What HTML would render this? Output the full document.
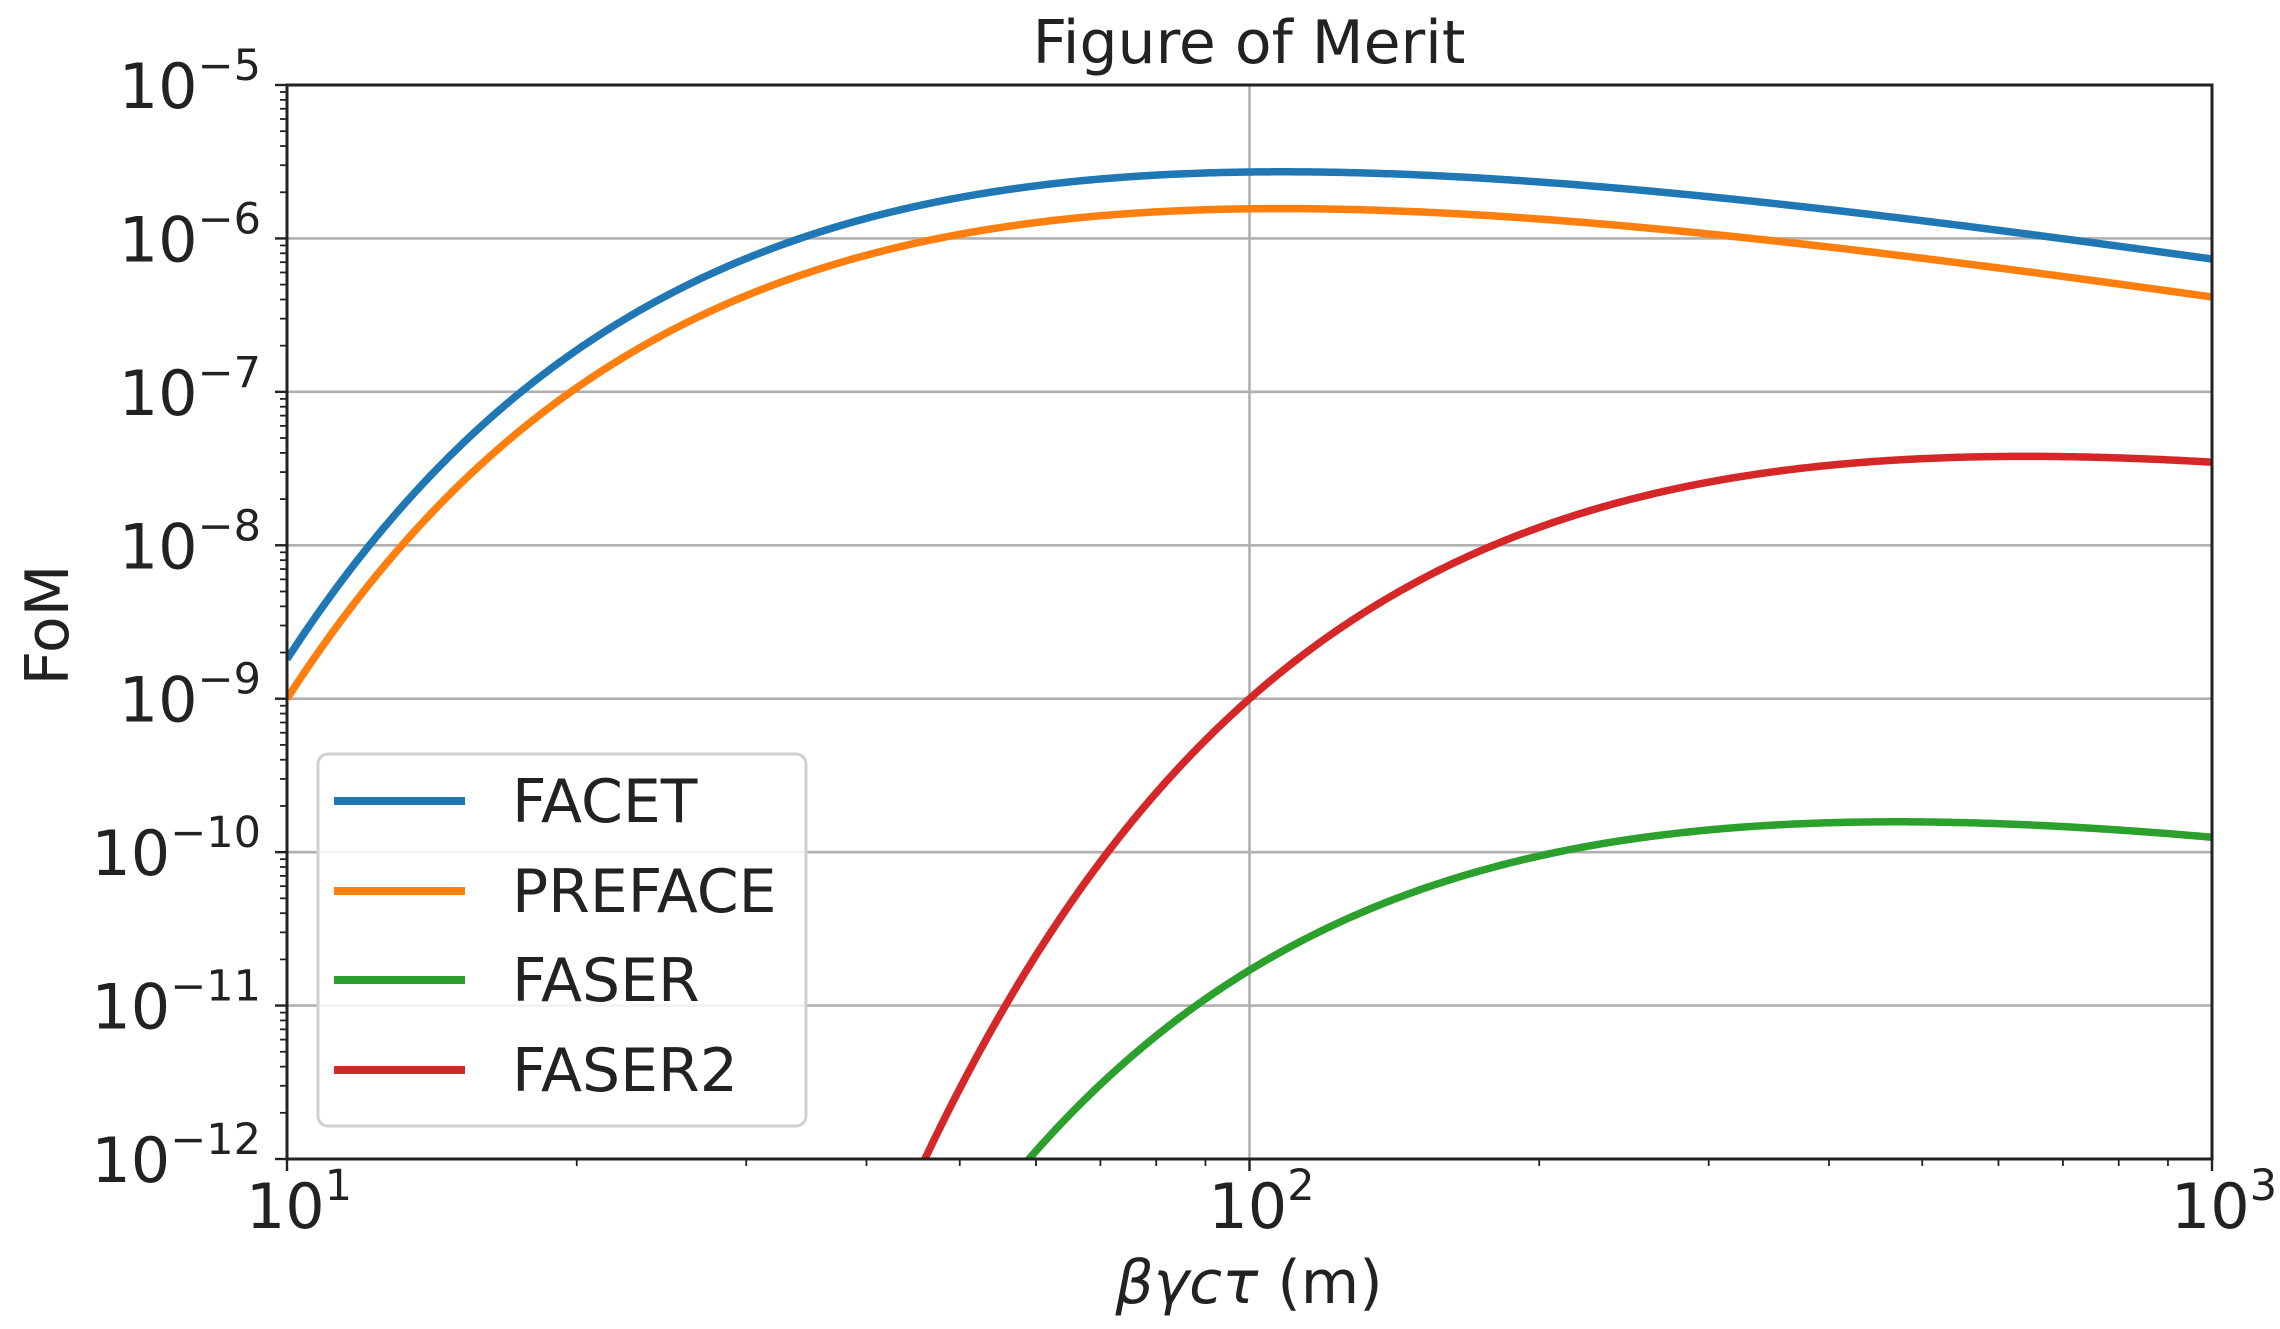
<!DOCTYPE html>
<html><head><meta charset="utf-8"><style>
html,body{margin:0;padding:0;background:#fff;width:2280px;height:1329px;overflow:hidden;}
svg{display:block;font-family:"DejaVu Sans","Liberation Sans",sans-serif;}
</style></head><body>
<svg id="s" width="2280" height="1329" viewBox="0 0 2280 1329" xmlns="http://www.w3.org/2000/svg">
<defs><clipPath id="c"><rect x="287" y="85" width="1925" height="1074"/></clipPath></defs>
<g id="grid" stroke="#b0b0b0" stroke-width="2.6"></g>
<g id="curves" clip-path="url(#c)" fill="none" stroke-width="7.5" stroke-linejoin="round"></g>
<g id="ticks" stroke="#222" stroke-width="2.4"></g>
<rect x="287" y="85" width="1925" height="1074" fill="none" stroke="#222" stroke-width="3"/>
<g id="labels" fill="#222"></g>
<text x="1249" y="63" font-size="60" text-anchor="middle" fill="#222">Figure of Merit</text>
<text x="1249" y="1303" font-size="60" text-anchor="middle" fill="#222"><tspan font-style="italic">βγcτ</tspan> (m)</text>
<text transform="translate(68,625) rotate(-90)" font-size="60" text-anchor="middle" fill="#222">FoM</text>
<rect x="318" y="754" width="488" height="372" rx="10" fill="#fff" fill-opacity="0.85" stroke="#d0d0d0" stroke-width="3"/>
<g stroke-width="8">
<line x1="334" y1="801" x2="465" y2="801" stroke="#1f77b4"/>
<line x1="334" y1="891" x2="465" y2="891" stroke="#ff7f0e"/>
<line x1="334" y1="980" x2="465" y2="980" stroke="#2ca02c"/>
<line x1="334" y1="1070" x2="465" y2="1070" stroke="#d62728"/>
</g>
<g font-size="60" fill="#222">
<text x="512" y="822">FACET</text>
<text x="512" y="912">PREFACE</text>
<text x="512" y="1001">FASER</text>
<text x="512" y="1091">FASER2</text>
</g>
</svg>
<script>
var NS="http://www.w3.org/2000/svg";
function el(p,t,a,txt){var e=document.createElementNS(NS,t);for(var k in a)e.setAttribute(k,a[k]);if(txt!=null)e.textContent=txt;document.getElementById(p).appendChild(e);return e;}
var L=287,R=2212,T=85,B=1159,dy=(B-T)/7,dx=(R-L)/2;
for(var i=1;i<7;i++){var y=T+i*dy;el("grid","line",{x1:L,x2:R,y1:y,y2:y});}
el("grid","line",{x1:L+dx,x2:L+dx,y1:T,y2:B});
for(var i=0;i<=7;i++){var y=T+i*dy;el("ticks","line",{x1:L-12,x2:L,y1:y,y2:y});
 if(i<7)for(var m=2;m<10;m++){var yy=T+(i+1)*dy-Math.log10(m)*dy;el("ticks","line",{x1:L-7,x2:L,y1:yy,y2:yy,"stroke-width":1.8});}
 var t=el("labels","text",{x:L-26,y:y+23,"font-size":62,"text-anchor":"end"});
 var a=document.createElementNS(NS,"tspan");a.textContent="10";t.appendChild(a);
 var b=document.createElementNS(NS,"tspan");b.setAttribute("dy","-28");b.setAttribute("font-size","43");b.textContent="\u2212"+(5+i);t.appendChild(b);}
for(var i=0;i<=2;i++){var x=L+i*dx;el("ticks","line",{x1:x,x2:x,y1:B,y2:B+12});
 if(i<2)for(var m=2;m<10;m++){var xx=L+i*dx+Math.log10(m)*dx;el("ticks","line",{x1:xx,x2:xx,y1:B,y2:B+7,"stroke-width":1.8});}
 var t=el("labels","text",{x:x+12,y:1228,"font-size":62,"text-anchor":"middle"});
 var a=document.createElementNS(NS,"tspan");a.textContent="10";t.appendChild(a);
 var b=document.createElementNS(NS,"tspan");b.setAttribute("dy","-28");b.setAttribute("font-size","43");b.textContent=""+(1+i);t.appendChild(b);}
function solve(pts){
 var M=pts.map(function(q){return [1,Math.log(q[0]),-1/q[0],Math.log(q[1])];});
 for(var i=0;i<3;i++){var piv=M[i][i];for(var j=i;j<4;j++)M[i][j]/=piv;
  for(var k=0;k<3;k++)if(k!=i){var f=M[k][i];for(var j=i;j<4;j++)M[k][j]-=f*M[i][j];}}
 return [M[0][3],M[1][3],M[2][3]];}
var series=[
 ["#1f77b4",[[10,1.81e-9],[100,2.71e-6],[1000,7.34e-7]]],
 ["#ff7f0e",[[10,1.0e-9],[100,1.56e-6],[1000,4.15e-7]]],
 ["#2ca02c",[[59,1e-12],[100,1.7e-11],[1000,1.25e-10]]],
 ["#d62728",[[46,1e-12],[100,1e-9],[1000,3.48e-8]]]];
series.forEach(function(s){var k=solve(s[1]);var d="";
 for(var n=0;n<=600;n++){var u=1+2*n/600,x=Math.pow(10,u);
  var lg=(k[0]+k[1]*Math.log(x)-k[2]/x)/Math.LN10;
  var X=L+(u-1)*dx,Y=T+(-5-lg)*dy; if(Y>1250)Y=1250;
  d+=(n?"L":"M")+X.toFixed(2)+","+Y.toFixed(2);}
 el("curves","path",{d:d,stroke:s[0]});});
</script>
</body></html>
